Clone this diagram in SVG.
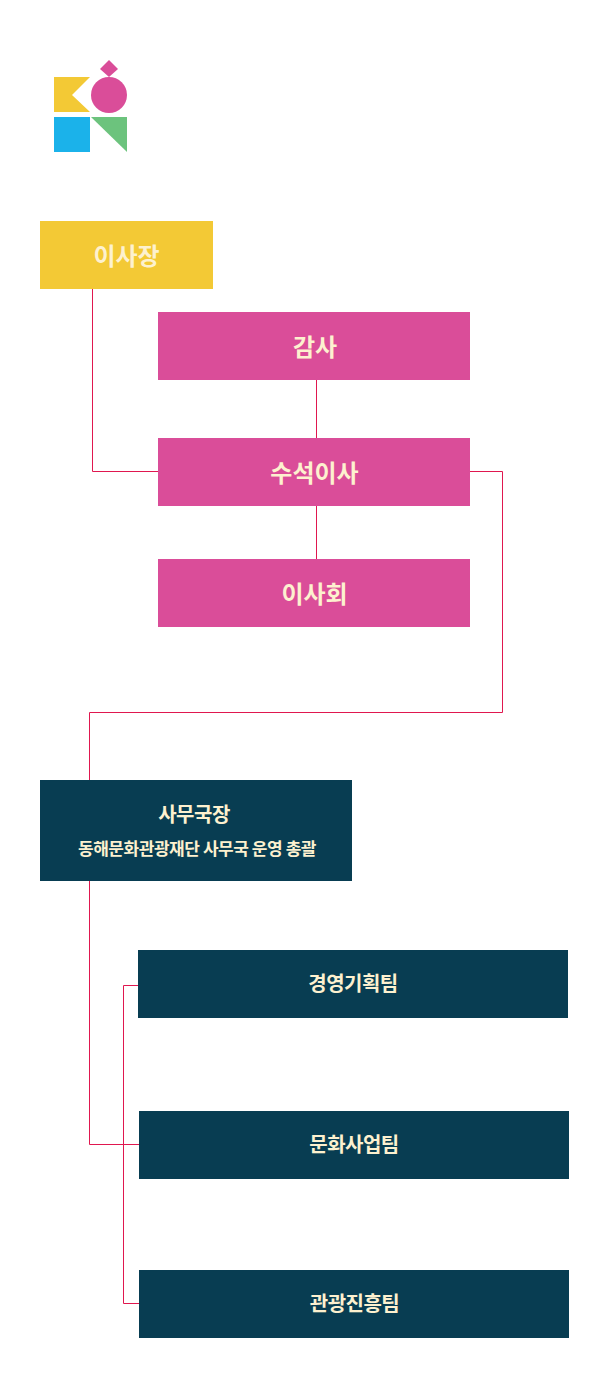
<svg xmlns="http://www.w3.org/2000/svg" width="603" height="1396" viewBox="0 0 603 1396">
<style>
text{font-family:"Noto Sans CJK KR","Noto Sans",sans-serif;font-weight:700;fill:#fdf1cf;text-anchor:middle}
.big{font-size:24px}.mid{font-size:20px;letter-spacing:-.5px}.sm{font-size:17px;letter-spacing:-.45px}
.y{fill:#f3c935}.p{fill:#da4d99}.n{fill:#083d52}
.c{fill:none;stroke:#e0174f;stroke-width:1}
</style>
<rect width="603" height="1396" fill="#fff"/>
<g id="logo">
<path d="M54 77H90L72 95L90 112H54Z" class="y"/>
<circle cx="109" cy="95" r="18" class="p"/>
<path d="M109 60L118 69L109 77L100 69Z" class="p"/>
<rect x="54" y="117" width="36" height="35" fill="#1bb2ea"/>
<path d="M91 117H127V152Z" fill="#6cc37d"/>
</g>
<g id="connectors">
<path class="c" d="M92.500 289V471.500H158"/>
<path class="c" d="M316.500 380V438M316.500 506V559"/>
<path class="c" d="M470 471.500H502.500V712.500H89.500V780"/>
<path class="c" d="M89.500 881V1144.500H139"/>
<path class="c" d="M138 985.500H123.500V1303.500H139"/>
</g>
<g id="n1"><rect x="40" y="221" width="173" height="68" class="y"/><text x="126.500" y="265" class="big">이사장</text></g>
<g id="n2"><rect x="158" y="312" width="312" height="68" class="p"/><text x="315" y="356" class="big">감사</text></g>
<g id="n3"><rect x="158" y="438" width="312" height="68" class="p"/><text x="314.500" y="482" class="big">수석이사</text></g>
<g id="n4"><rect x="158" y="559" width="312" height="68" class="p"/><text x="314.500" y="603" class="big">이사회</text></g>
<g id="n5"><rect x="40" y="780" width="312" height="101" class="n"/><text x="194" y="822" class="mid">사무국장</text><text x="197" y="855" class="sm">동해문화관광재단 사무국 운영 총괄</text></g>
<g id="n6"><rect x="138" y="950" width="430" height="68" class="n"/><text x="353" y="991" class="mid">경영기획팀</text></g>
<g id="n7"><rect x="139" y="1111" width="430" height="68" class="n"/><text x="354" y="1152" class="mid">문화사업팀</text></g>
<g id="n8"><rect x="139" y="1270" width="430" height="68" class="n"/><text x="354.500" y="1311" class="mid">관광진흥팀</text></g>
</svg>
